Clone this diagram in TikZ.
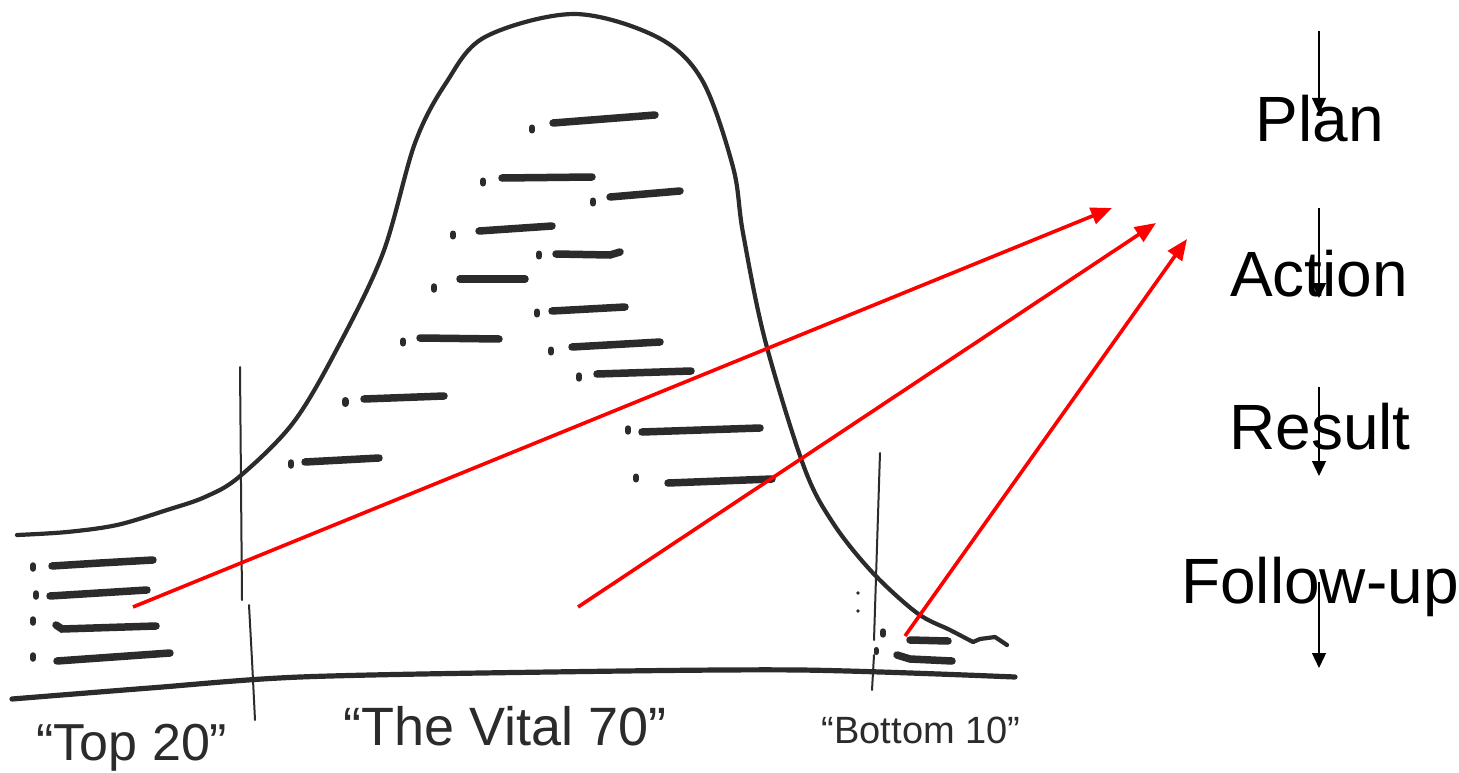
\documentclass[tikz,border=0pt]{standalone}
\usepackage{fontspec}
\setmainfont{Liberation Sans}
\usetikzlibrary{arrows.meta}
\definecolor{inkc}{HTML}{2B2B2B}
\definecolor{redc}{HTML}{FF0000}
\newcommand{\inkspot}[3][6pt]{\draw[line width=#1, draw=inkc, line cap=round] (#2,#3-1.5) -- (#2,#3+1.5);}
\begin{document}
\begin{tikzpicture}[x=1pt,y=-1pt,
  curve/.style={line width=4.2pt, draw=inkc, line cap=round, line join=round},
  thinline/.style={line width=2pt, draw=inkc, line cap=round},
  baseln/.style={line width=5.2pt, draw=inkc, line cap=round},
  inkbar/.style={line width=7.5pt, draw=inkc, line cap=round},
  redarrow/.style={line width=3.6pt, draw=redc, -{Triangle[length=21pt,width=17pt]}},
  blkarrow/.style={line width=1.3pt, draw=black, -{Triangle[length=15pt,width=14pt]}},
  steplbl/.style={font=\fontsize{64}{64}\selectfont, inner sep=0pt, anchor=base},
  handlbl/.style={inner sep=0pt, anchor=base, text=inkc}
]
\useasboundingbox (0,0) rectangle (1459,773);
\fill[white] (0,0) rectangle (1459,773);

% bell curve
\draw[curve] plot[smooth, tension=0.55] coordinates {
 (17,535) (67,532) (117,525) (167,510) (205,497) (239,477) (293,423) (338,347)
 (383,253) (415,143) (446,83) (485,37) (574,14) (657,37) (702,80) (733,167)
 (743,233) (765,340) (804,467) (833,523) (872,572) (917,613) (950,630) (973,642)};
\draw[curve] (973,642) -- (980,639) -- (995,637) -- (1007,645);

% baseline
\draw[baseln] plot[smooth, tension=0.5] coordinates {(12,699) (150,688) (300,677) (550,672) (800,670) (1015,677)};

% vertical dividers
\draw[thinline] (240,367) -- (242,600);
\draw[thinline] (249,605) -- (252,660) -- (255,720);
\draw[thinline] (880,453) -- (874,640);
\draw[thinline] (874,655) -- (872,690);

% Top 20 bars
\inkspot[6.5pt]{33}{567}
\draw[inkbar] (52,566) -- (100,563) -- (153,560);
\inkspot[6.5pt]{36}{595}
\draw[inkbar] (50,596) -- (147,590);
\inkspot[6.5pt]{33}{621}
\draw[inkbar] (56,625) -- (62,629) -- (156,626);
\inkspot[6.5pt]{33}{657}
\draw[inkbar] (57,661) -- (170,653);

% Vital 70 bars
\inkspot{532}{129}
\draw[inkbar] (553,123) -- (655,115);
\inkspot{483}{182}
\draw[inkbar] (502,178) -- (592,177);
\inkspot{593}{202}
\draw[inkbar] (610,197) -- (680,191);
\inkspot{453}{235}
\draw[inkbar] (479,231) -- (552,226);
\inkspot{539}{255}
\draw[inkbar] (556,254) -- (610,255) -- (620,252);
\inkspot[6.5pt]{434}{288}
\draw[inkbar] (460,279) -- (525,279);
\inkspot{537}{313}
\draw[inkbar] (552,311) -- (625,307);
\inkspot{403}{342}
\draw[inkbar] (420,338) -- (499,339);
\inkspot{551}{351}
\draw[inkbar] (572,347) -- (660,342);
\inkspot[6.4pt]{579}{377}
\draw[inkbar] (597,374) -- (691,371);
\inkspot[7pt]{345}{402}
\draw[inkbar] (364,399) -- (444,396);
\inkspot[6.5pt]{291}{464}
\draw[inkbar] (305,462) -- (379,458);
\inkspot[6.4pt]{628}{430}
\draw[inkbar] (642,432) -- (760,428);
\inkspot{636}{478}
\draw[inkbar] (668,483) -- (772,479);

% Bottom 10 bars
\fill[inkc] (858,593) circle (1.8pt);
\fill[inkc] (858,611) circle (1.8pt);
\inkspot[6.4pt]{883}{633}
\inkspot[5pt]{876}{651}
\draw[inkbar] (910,640) -- (948,641);
\draw[inkbar] (897,655) -- (910,659) -- (952,661);

% hand labels
\node[handlbl, font=\fontsize{52}{52}\selectfont] (top) at (132,760) {“Top 20”};
\node[handlbl, font=\fontsize{54}{54}\selectfont] (vital) at (505,745) {“The Vital 70”};
\node[handlbl, font=\fontsize{38}{38}\selectfont] (bottom) at (921,743) {“Bottom 10”};

% step labels
\node[steplbl] (plan) at (1320,142) {Plan};
\node[steplbl] (action) at (1319,296) {Action};
\node[steplbl] (result) at (1320,449) {Result};
\node[steplbl] (follow) at (1320,603) {Follow-up};

% black arrows
\coordinate (b1s) at (1319,31);  \coordinate (b1e) at (1319,113);
\coordinate (b2s) at (1319,208); \coordinate (b2e) at (1319,298);
\coordinate (b3s) at (1319,387); \coordinate (b3e) at (1319,476);
\coordinate (b4s) at (1319,582); \coordinate (b4e) at (1319,668);
\draw[blkarrow] (b1s) -- (b1e);
\draw[blkarrow] (b2s) -- (b2e);
\draw[blkarrow] (b3s) -- (b3e);
\draw[blkarrow] (b4s) -- (b4e);

% red arrows
\coordinate (r1s) at (133,607); \coordinate (r1e) at (1112,208);
\coordinate (r2s) at (578,607); \coordinate (r2e) at (1156,223);
\coordinate (r3s) at (905,636); \coordinate (r3e) at (1187,239);
\draw[redarrow] (r1s) -- (r1e);
\draw[redarrow] (r2s) -- (r2e);
\draw[redarrow] (r3s) -- (r3e);
\end{tikzpicture}
\end{document}
